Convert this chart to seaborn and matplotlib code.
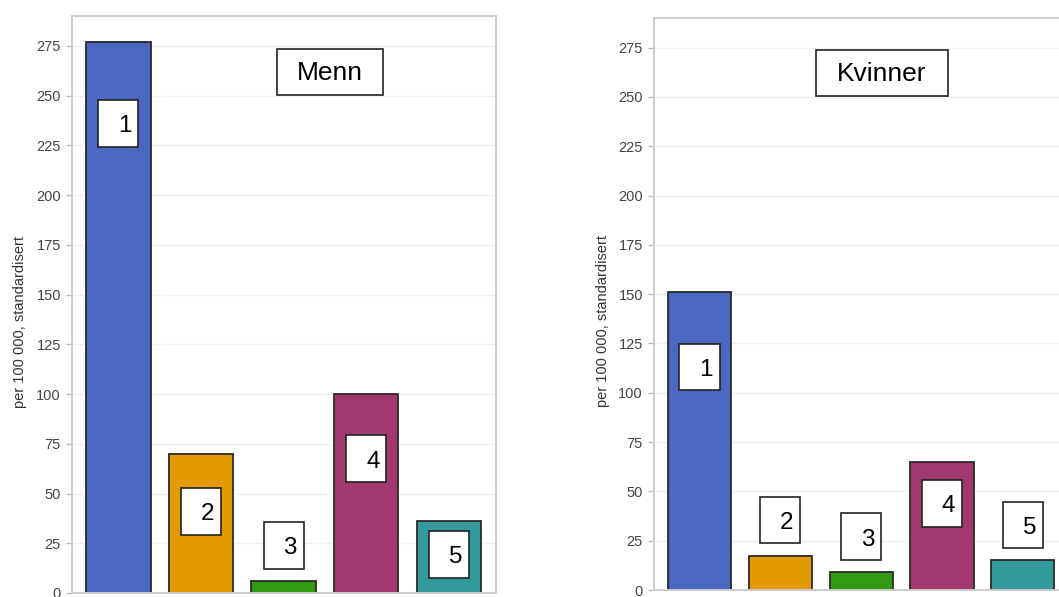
import matplotlib
matplotlib.use("Agg")
import matplotlib.pyplot as plt
from matplotlib.patches import Rectangle
import seaborn as sns
import pandas as pd

categories = ["1", "2", "3", "4", "5"]
menn_values = [277, 70, 6, 100, 36]
kvinner_values = [151, 17, 9, 65, 15]
panel_titles = ["Menn", "Kvinner"]
ylabel = "per 100 000, standardisert"
yticks = [0, 25, 50, 75, 100, 125, 150, 175, 200, 225, 250, 275]
colors = ["#4a67c2", "#e39a00", "#2f9a12", "#a1396f", "#34999b"]

# layout of annotation boxes (y centre in data units)
menn_label_y = [236, 41, 24, 67.5, 19.5]
kvinner_label_y = [113, 35.5, 27, 44, 33]

sns.set_theme(style="white")
plt.rcParams['font.family'] = ['Liberation Sans', 'DejaVu Sans']

fig = plt.figure(figsize=(10.59, 5.97), dpi=100)
ax1 = fig.add_axes([72 / 1059, 4 / 597, 424 / 1059, 577 / 597])
ax2 = fig.add_axes([654 / 1059, 7 / 597, 415 / 1059, 572 / 597])

panels = [
    (ax1, menn_values, menn_label_y, panel_titles[0], 2.56, 1.285, 0.485),
    (ax2, kvinner_values, kvinner_label_y, panel_titles[1], 2.255, 1.63, 0.5),
]

for ax, vals, laby, title, tx, tw, bw in panels:
    df = pd.DataFrame({"cat": categories, "val": vals})
    sns.barplot(data=df, x="cat", y="val", hue="cat", palette=colors,
                order=categories, hue_order=categories, legend=False,
                saturation=1, width=0.78, edgecolor="#2a2a2a",
                linewidth=1.3, ax=ax, zorder=2)
    ax.set_xlim(-0.56, 4.57)
    ax.set_ylim(0, 290)
    ax.set_yticks(yticks)
    ax.set_yticklabels([str(t) for t in yticks], fontsize=10.5, color="#444444")
    ax.set_xticks([])
    ax.set_xlabel("")
    ax.set_ylabel(ylabel, fontsize=10.5, color="#333333")
    ax.yaxis.set_label_coords(-0.105, 0.47)
    ax.tick_params(axis="y", which="major", length=4, width=1,
                   color="#bbbbbb", left=True, pad=4)
    for s in ax.spines.values():
        s.set_color("#cccccc")
        s.set_linewidth(1.4)
    for t in yticks[1:]:
        ax.axhline(t, color="#f0f0f0", linewidth=1.0, zorder=0)
    # number boxes
    bh = 23.7
    for i, (c, yc) in enumerate(zip(categories, laby)):
        ax.add_patch(Rectangle((i - bw / 2, yc - bh / 2), bw, bh,
                               facecolor="white", edgecolor="#222222",
                               linewidth=1.2, zorder=5))
        ax.text(i + 0.08, yc - 1.5, c, ha="center", va="center",
                fontsize=17.5, color="black", zorder=6)
    # title box
    th = 23.2
    ax.add_patch(Rectangle((tx - tw / 2, 262 - th / 2), tw, th,
                           facecolor="white", edgecolor="#222222",
                           linewidth=1.2, zorder=5))
    ax.text(tx, 262 - 0.5, title, ha="center", va="center", fontsize=19,
            color="black", zorder=6)

fig.savefig("out.png", dpi=100)
